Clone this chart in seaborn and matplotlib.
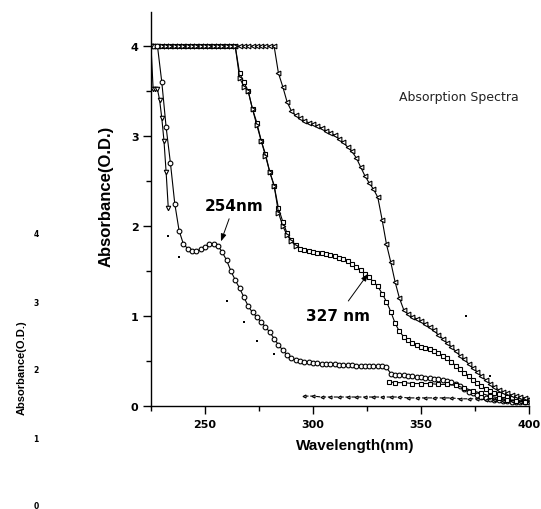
# absorption spectra - redraw of the scanned figure

import seaborn as sns
import matplotlib.pyplot as plt
from matplotlib.ticker import MultipleLocator

# shared wavelength grid (nm)
wavelength = [226, 228, 230, 232, 234, 236, 238, 240, 242, 244,
              246, 248, 250, 252, 254, 256, 258, 260, 262, 264,
              266, 268, 270, 272, 274, 276, 278, 280, 282, 284,
              286, 288, 290, 292, 294, 296, 298, 300, 302, 304,
              306, 308, 310, 312, 314, 316, 318, 320, 322, 324,
              326, 328, 330, 332, 334, 336, 338, 340, 342, 344,
              346, 348, 350, 352, 354, 356, 358, 360, 362, 364,
              366, 368, 370, 372, 374, 376, 378, 380, 382, 384,
              386, 388, 390, 392, 394, 396, 398, 400]

# curve with the 254 nm peak (circles)
abs_254 = [4.0, 4.0, 3.6, 3.1, 2.7, 2.25, 1.95, 1.8, 1.75, 1.72,
           1.72, 1.74, 1.77, 1.8, 1.8, 1.78, 1.71, 1.62, 1.5, 1.4,
           1.31, 1.21, 1.11, 1.04, 0.99, 0.93, 0.88, 0.82, 0.75, 0.68,
           0.62, 0.57, 0.53, 0.51, 0.5, 0.49, 0.49, 0.48, 0.48, 0.47,
           0.47, 0.47, 0.47, 0.46, 0.46, 0.46, 0.46, 0.45, 0.45, 0.45,
           0.45, 0.44, 0.44, 0.44, 0.43, 0.36, 0.35, 0.34, 0.34, 0.33,
           0.33, 0.32, 0.32, 0.31, 0.31, 0.3, 0.3, 0.29, 0.28, 0.27,
           0.25, 0.22, 0.19, 0.16, 0.14, 0.12, 0.1, 0.09, 0.08, 0.07,
           0.07, 0.06, 0.06, 0.05, 0.05, 0.05, 0.05, 0.05]

# curve with the 327 nm shoulder (squares)
abs_327 = [4.0, 4.0, 4.0, 4.0, 4.0, 4.0, 4.0, 4.0, 4.0, 4.0,
           4.0, 4.0, 4.0, 4.0, 4.0, 4.0, 4.0, 4.0, 4.0, 4.0,
           3.7, 3.6, 3.5, 3.3, 3.15, 2.95, 2.8, 2.6, 2.45, 2.2,
           2.05, 1.92, 1.84, 1.79, 1.75, 1.73, 1.72, 1.71, 1.7, 1.7,
           1.69, 1.68, 1.67, 1.65, 1.63, 1.61, 1.58, 1.55, 1.51, 1.47,
           1.43, 1.38, 1.33, 1.25, 1.16, 1.05, 0.92, 0.83, 0.77, 0.73,
           0.7, 0.68, 0.66, 0.64, 0.63, 0.61, 0.59, 0.56, 0.53, 0.49,
           0.45, 0.41, 0.37, 0.33, 0.29, 0.26, 0.22, 0.19, 0.17, 0.15,
           0.13, 0.12, 0.1, 0.09, 0.08, 0.08, 0.07, 0.07]

# right-hand curve (left-pointing triangles)
abs_tri_left = [4.0, 4.0, 4.0, 4.0, 4.0, 4.0, 4.0, 4.0, 4.0, 4.0,
                4.0, 4.0, 4.0, 4.0, 4.0, 4.0, 4.0, 4.0, 4.0, 4.0,
                4.0, 4.0, 4.0, 4.0, 4.0, 4.0, 4.0, 4.0, 4.0, 3.7,
                3.55, 3.38, 3.28, 3.23, 3.2, 3.17, 3.15, 3.13, 3.11, 3.09,
                3.06, 3.04, 3.01, 2.97, 2.93, 2.88, 2.83, 2.76, 2.66, 2.56,
                2.48, 2.41, 2.32, 2.07, 1.8, 1.6, 1.38, 1.2, 1.07, 1.02,
                0.99, 0.97, 0.94, 0.91, 0.88, 0.84, 0.79, 0.75, 0.7, 0.66,
                0.61, 0.56, 0.52, 0.47, 0.42, 0.38, 0.33, 0.29, 0.25, 0.21,
                0.18, 0.16, 0.14, 0.12, 0.11, 0.1, 0.09, 0.08]

# upper part of the middle curve (right-pointing triangles)
wl_tri_right = [226, 228, 230, 232, 234, 236, 238, 240, 242, 244,
                246, 248, 250, 252, 254, 256, 258, 260, 262, 264,
                266, 268, 270, 272, 274, 276, 278, 280, 282, 284,
                286, 288, 290, 292]
abs_tri_right = [4.0, 4.0, 4.0, 4.0, 4.0, 4.0, 4.0, 4.0, 4.0, 4.0,
                 4.0, 4.0, 4.0, 4.0, 4.0, 4.0, 4.0, 4.0, 4.0, 4.0,
                 3.65, 3.55, 3.5, 3.3, 3.12, 2.95, 2.78, 2.6, 2.45, 2.15,
                 2.0, 1.9, 1.83, 1.78]

# steep left curve (down triangles) and its scattered specks
wl_down = [225, 226, 227, 228, 229, 230, 231, 232, 233]
abs_down = [4.0, 3.52, 3.52, 3.52, 3.4, 3.2, 2.95, 2.6, 2.2]
wl_specks = [233, 238, 260, 268, 274, 282, 371, 382]
abs_specks = [1.89, 1.66, 1.17, 0.93, 0.72, 0.58, 1.0, 0.33]

# low-lying traces near the baseline
wl_low = [296, 300, 304, 308, 312, 316, 320, 324, 328, 332, 336, 340, 344,
          348, 352, 356, 360, 364, 368, 372, 376, 380, 384, 388, 392, 396, 400]
abs_low = [0.11, 0.11, 0.1, 0.1, 0.1, 0.1, 0.1, 0.1, 0.1, 0.1, 0.1, 0.1, 0.09,
           0.09, 0.09, 0.09, 0.09, 0.09, 0.08, 0.08, 0.08, 0.07, 0.07, 0.06, 0.06, 0.05, 0.05]
wl_mid = [335, 338, 342, 346, 350, 354, 358, 362, 366, 370, 374, 378, 382, 386, 390, 394, 398]
abs_mid = [0.27, 0.26, 0.26, 0.25, 0.25, 0.25, 0.24, 0.24, 0.23, 0.2, 0.17, 0.14, 0.11,
           0.09, 0.07, 0.06, 0.05]

# the faint left axis bleeding through from the scan
ghost_ticks = ["4", "3", "2", "1", "0"]


def draw(ax, x, y, marker, size=3.0, **kw):
    sns.lineplot(x=x, y=y, ax=ax, color="black", linewidth=0.8, marker=marker,
                 markersize=size, markerfacecolor="white", markeredgecolor="black",
                 markeredgewidth=0.8, estimator=None, sort=False, **kw)


sns.set_style("ticks")
plt.rcParams["font.family"] = ["DejaVu Sans"]
plt.rcParams["text.color"] = "black"
plt.rcParams["axes.labelcolor"] = "black"
plt.rcParams["xtick.color"] = "black"
plt.rcParams["ytick.color"] = "black"

fig = plt.figure(figsize=(5.41, 5.10), dpi=100)
ax = fig.add_axes([151 / 541, 1 - 407 / 510, 378 / 541, 394 / 510])

draw(ax, wavelength, abs_327, "s", size=3.0)
draw(ax, wavelength, abs_tri_left, "<", size=3.4)
draw(ax, wl_tri_right, abs_tri_right, ">", size=3.4)
draw(ax, wavelength, abs_254, "o", size=3.4)
draw(ax, wl_down, abs_down, "v", size=3.2)
draw(ax, wl_low, abs_low, "<", size=2.2, linestyle="--")
draw(ax, wl_mid, abs_mid, "s", size=2.4)
sns.scatterplot(x=wl_specks, y=abs_specks, ax=ax, s=3, color="black",
                marker="s", linewidth=0)

ax.set_xlim(225, 400)
ax.set_ylim(0, 4.38)
ax.xaxis.set_major_locator(MultipleLocator(50))
ax.xaxis.set_minor_locator(MultipleLocator(25))
ax.yaxis.set_major_locator(MultipleLocator(1))
ax.yaxis.set_minor_locator(MultipleLocator(0.5))
ax.set_xticks([250, 300, 350, 400])
ax.tick_params(which="major", length=6, width=1, labelsize=8, pad=3, colors="black")
ax.tick_params(which="minor", length=3.5, width=1, colors="black")
for lab in ax.get_xticklabels() + ax.get_yticklabels():
    lab.set_fontweight("bold")
sns.despine(ax=ax)
for side in ["left", "bottom"]:
    ax.spines[side].set_linewidth(1)
    ax.spines[side].set_color("black")

ax.set_xlabel("Wavelength(nm)", fontsize=11, fontweight="bold", family="Liberation Sans")
ax.set_ylabel("Absorbance(O.D.)", fontsize=12, fontweight="bold", family="Liberation Sans")
ax.xaxis.set_label_coords(0.54, -0.08)
ax.yaxis.set_label_coords(-0.10, 0.535)

ax.annotate("254nm", xy=(257.4, 1.83), xytext=(263.4, 2.23), ha="center", va="center",
            fontsize=11, fontweight="bold",
            arrowprops=dict(arrowstyle="-|>,head_length=0.4,head_width=0.15",
                            color="black", lw=0.7, shrinkA=2, shrinkB=0))
ax.annotate("327 nm", xy=(325.5, 1.47), xytext=(311.6, 1.01), ha="center", va="center",
            fontsize=11, fontweight="bold",
            arrowprops=dict(arrowstyle="-|>,head_length=0.4,head_width=0.15",
                            color="black", lw=0.7, shrinkA=3, shrinkB=0))

fig.text(459 / 541, 1 - 97 / 510, "Absorption Spectra", ha="center", va="center",
         fontsize=9, color="#222222")

# ghost axis on the far left
for i, lab in enumerate(ghost_ticks):
    fig.text(36 / 541, 1 - (235 + i * 68) / 510, lab, ha="center", va="center",
             fontsize=5.5, fontweight="bold")
fig.text(22 / 541, 1 - 368 / 510, "Absorbance(O.D.)", rotation=90, ha="center",
         va="center", fontsize=8, fontweight="bold", family="Liberation Sans")

fig.savefig("out.png", dpi=100)
